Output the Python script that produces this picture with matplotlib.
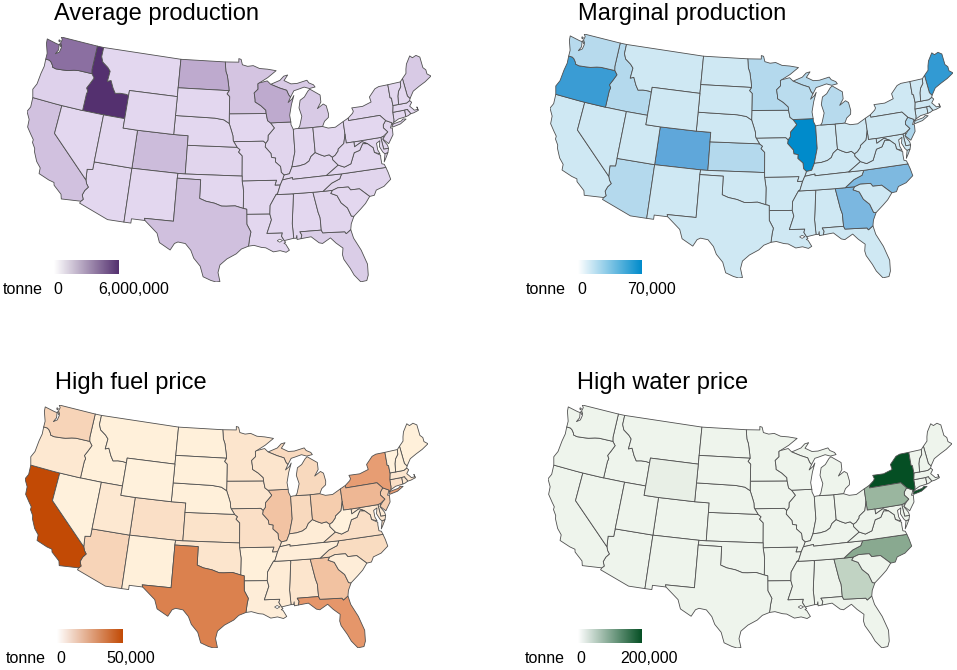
import numpy as np
import matplotlib

matplotlib.use("Agg")
import matplotlib.pyplot as plt
from matplotlib.colors import LinearSegmentedColormap

plt.rcParams["font.family"] = ["Liberation Sans", "DejaVu Sans"]

W, H = 957, 670

STATES = ["AL", "AZ", "AR", "CA", "CO", "CT", "DE", "FL", "GA", "ID", "IL", "IN",
          "IA", "KS", "KY", "LA", "ME", "MD", "MA", "MI", "MN", "MS", "MO", "MT",
          "NE", "NV", "NH", "NJ", "NM", "NY", "NC", "ND", "OH", "OK", "OR", "PA",
          "RI", "SC", "SD", "TN", "TX", "UT", "VT", "VA", "WA", "WV", "WI", "WY"]

average_production = [60000, 60000, 60000, 800000, 1000000, 60000, 60000, 400000, 120000, 6000000, 120000, 60000,
                      60000, 120000, 60000, 60000, 500000, 60000, 60000, 500000, 700000, 60000, 60000, 60000,
                      60000, 60000, 60000, 120000, 60000, 120000, 120000, 1600000, 60000, 60000, 240000, 60000,
                      60000, 60000, 60000, 60000, 840000, 60000, 60000, 60000, 3700000, 60000, 1600000, 60000]
marginal_production = [500, 9000, 500, 500, 36000, 500, 500, 500, 27000, 9000, 70000, 500,
                       500, 9000, 500, 500, 52000, 500, 500, 8000, 9000, 500, 500, 500,
                       500, 500, 500, 11000, 500, 500, 26000, 500, 500, 500, 49000, 500,
                       500, 500, 500, 500, 500, 500, 500, 500, 8000, 500, 7000, 500]
high_fuel_price = [3500, 8000, 500, 50000, 5000, 5000, 1500, 25000, 13000, 500, 12500, 6500,
                   3000, 4000, 1500, 1000, 500, 2500, 3000, 6500, 3500, 1500, 5000, 500,
                   500, 100, 500, 10000, 500, 23000, 6000, 500, 10000, 3500, 2500, 16000,
                   2500, 1000, 500, 1000, 32000, 2500, 100, 5000, 8000, 100, 3500, 100]
high_water_price = [500, 500, 500, 500, 500, 500, 500, 500, 40000, 500, 500, 500,
                    500, 500, 500, 500, 500, 500, 500, 500, 500, 500, 500, 500,
                    500, 500, 500, 500, 500, 200000, 90000, 500, 500, 500, 500, 75000,
                    500, 500, 500, 500, 500, 500, 500, 500, 500, 500, 500, 6000]

TITLES = ["Average production", "Marginal production", "High fuel price", "High water price"]
SERIES = [average_production, marginal_production, high_fuel_price, high_water_price]
VMAX = [6000000, 70000, 50000, 200000]
MAX_LABELS = ["6,000,000", "70,000", "50,000", "200,000"]
BASE_COLORS = ["#E4D8F0", "#D0E9F3", "#FFF1DC", "#EEF4EC"]
MID_COLORS = ["#9C82B0", "#62A8DA", "#E5966A", "#7EA186"]
TOP_COLORS = ["#54306F", "#008BCB", "#C24A05", "#054F24"]

# left, right, top, bottom of each map in pixels
MAP_BOX = [(27, 431, 37, 282), (550, 953, 34, 278), (25, 428, 405, 648), (548, 952, 405, 648)]
# left, right, top, bottom of each legend bar
BAR_BOX = [(54, 119, 260, 274), (578, 642, 260, 274), (57, 122, 629, 643), (578, 642, 629, 643)]
TITLE_POS = [(54, 20), (578, 20), (55, 389), (577, 389)]
TONNE_POS = [(3, 294), (526, 294), (6, 663), (525, 663)]
ZERO_POS = [(53, 294), (577, 294), (56, 663), (576, 663)]
MAX_POS = [(98, 294), (627, 294), (106, 663), (620, 663)]

# state outlines, lon/lat
SHAPES = {
    "WA": [[(-117.04, 49), (-122.76, 49), (-122.5, 48.75), (-122.6, 48.4), (-122.3, 47.9), (-122.4, 47.4),
            (-122.9, 47.1), (-122.6, 47.6), (-122.75, 48.15), (-123.15, 48.17), (-124.73, 48.38), (-124.65, 47.9),
            (-124.1, 46.9), (-124.05, 46.27), (-123.5, 46.27), (-123.2, 46.15), (-122.85, 45.85), (-122.75, 45.65),
            (-122.2, 45.57), (-121.2, 45.65), (-120.5, 45.72), (-119.6, 45.92), (-118.98, 46.0), (-116.92, 46.0),
            (-117.04, 46.42)],
           [(-122.75, 48.6), (-122.95, 48.65), (-122.95, 48.5), (-122.75, 48.45)],
           [(-122.6, 48.3), (-122.75, 48.2), (-122.4, 47.98), (-122.35, 48.1)]],
    "OR": [[(-124.05, 46.27), (-123.95, 45.5), (-124.1, 44.7), (-124.2, 43.5), (-124.55, 42.84), (-124.2, 42.0),
            (-121, 42), (-120, 42), (-117.03, 42), (-117.03, 43.8), (-116.93, 44.1), (-117.2, 44.4), (-116.85, 44.95),
            (-116.46, 45.6), (-116.92, 46.0), (-118.98, 46.0), (-119.6, 45.92), (-120.5, 45.72), (-121.2, 45.65),
            (-122.2, 45.57), (-122.75, 45.65), (-122.85, 45.85), (-123.2, 46.15), (-123.5, 46.27)]],
    "CA": [[(-124.2, 42), (-124.1, 41.0), (-124.4, 40.44), (-123.8, 39.7), (-123.7, 38.9), (-122.95, 38.2),
            (-122.5, 37.8), (-122.5, 37.5), (-122.0, 36.95), (-121.9, 36.6), (-121.3, 35.7), (-120.65, 35.15),
            (-120.6, 34.55), (-119.2, 34.15), (-118.5, 34.03), (-118.4, 33.75), (-117.3, 33.0), (-117.13, 32.53),
            (-114.72, 32.72), (-114.47, 32.95), (-114.7, 33.4), (-114.5, 33.9), (-114.14, 34.3), (-114.43, 34.6),
            (-114.63, 35.0), (-120, 39), (-120, 42)]],
    "NV": [[(-120, 42), (-117.03, 42), (-114.04, 42), (-114.04, 37), (-114.04, 36.2), (-114.75, 36.1),
            (-114.63, 35.0), (-120, 39)]],
    "AZ": [[(-114.04, 37), (-109.05, 37), (-109.05, 31.33), (-111.07, 31.33), (-114.81, 32.5), (-114.72, 32.72),
            (-114.47, 32.95), (-114.7, 33.4), (-114.5, 33.9), (-114.14, 34.3), (-114.43, 34.6), (-114.63, 35.0),
            (-114.75, 36.1), (-114.04, 36.2)]],
    "UT": [[(-114.04, 42), (-111.05, 42), (-111.05, 41), (-109.05, 41), (-109.05, 37), (-114.04, 37)]],
    "ID": [[(-117.04, 49), (-116.05, 49), (-116.05, 48), (-115.7, 47.45), (-114.8, 47.0), (-114.35, 46.65),
            (-114.45, 45.55), (-113.95, 45.7), (-113.45, 44.95), (-113.0, 44.45), (-112.3, 44.55), (-111.5, 44.55),
            (-111.05, 44.48), (-111.05, 42), (-114.04, 42), (-117.03, 42), (-117.03, 43.8), (-116.93, 44.1),
            (-117.2, 44.4), (-116.85, 44.95), (-116.46, 45.6), (-116.92, 46.0), (-117.04, 46.42)]],
    "MT": [[(-116.05, 49), (-104.05, 49), (-104.05, 45.94), (-104.05, 45), (-111.05, 45), (-111.05, 44.48),
            (-111.5, 44.55), (-112.3, 44.55), (-113.0, 44.45), (-113.45, 44.95), (-113.95, 45.7), (-114.45, 45.55),
            (-114.35, 46.65), (-114.8, 47.0), (-115.7, 47.45), (-116.05, 48)]],
    "WY": [[(-111.05, 45), (-104.05, 45), (-104.05, 43), (-104.05, 41), (-109.05, 41), (-111.05, 41)]],
    "CO": [[(-109.05, 41), (-104.05, 41), (-102.05, 41), (-102.05, 40), (-102.05, 37), (-103, 37), (-109.05, 37)]],
    "NM": [[(-109.05, 37), (-103, 37), (-103.04, 36.5), (-103.05, 32), (-106.62, 32), (-106.53, 31.78),
            (-108.2, 31.78), (-108.2, 31.33), (-109.05, 31.33)]],
    "ND": [[(-104.05, 49), (-97.23, 49), (-97.1, 48), (-96.85, 47.5), (-96.6, 46.3), (-96.56, 45.94), (-104.05, 45.94)]],
    "SD": [[(-104.05, 45.94), (-96.56, 45.94), (-96.85, 45.6), (-96.45, 45.3), (-96.45, 43.5), (-96.45, 42.49),
            (-97.2, 42.85), (-98.5, 43.0), (-104.05, 43), (-104.05, 45)]],
    "NE": [[(-104.05, 43), (-98.5, 43), (-97.2, 42.85), (-96.45, 42.49), (-96.1, 41.7), (-95.9, 41.2), (-95.85, 40.7),
            (-95.77, 40.58), (-95.31, 40), (-102.05, 40), (-102.05, 41), (-104.05, 41)]],
    "KS": [[(-102.05, 40), (-95.31, 40), (-94.9, 39.75), (-95.1, 39.5), (-94.61, 39.11), (-94.62, 37), (-102.05, 37)]],
    "OK": [[(-103, 37), (-102.05, 37), (-94.62, 37), (-94.62, 36.5), (-94.43, 35.4), (-94.48, 33.64), (-95.5, 33.9),
            (-96.6, 33.85), (-97.2, 33.85), (-98.1, 34.13), (-99.2, 34.3), (-100, 34.56), (-100, 36.5), (-103.04, 36.5)]],
    "TX": [[(-103.04, 36.5), (-100, 36.5), (-100, 34.56), (-99.2, 34.3), (-98.1, 34.13), (-97.2, 33.85), (-96.6, 33.85),
            (-95.5, 33.9), (-94.48, 33.64), (-94.04, 33.55), (-94.04, 33.02), (-94.04, 31.99), (-93.55, 31.18),
            (-93.7, 30.6), (-93.85, 29.7), (-94.7, 29.4), (-95.3, 28.9), (-96.4, 28.35), (-97.2, 27.7), (-97.4, 26.9),
            (-97.15, 25.96), (-97.6, 25.9), (-98.2, 26.05), (-99.1, 26.4), (-99.5, 27.5), (-100.3, 28.3), (-100.7, 29.1),
            (-101.4, 29.77), (-102.3, 29.88), (-102.7, 29.7), (-103.15, 28.98), (-104.5, 29.65), (-104.9, 30.6),
            (-106.53, 31.78), (-106.62, 32), (-103.05, 32)]],
    "MN": [[(-97.23, 49), (-95.15, 49), (-95.15, 49.38), (-94.8, 49.3), (-94.6, 48.72), (-93.8, 48.55), (-92.95, 48.62),
            (-92.0, 48.3), (-90.8, 48.2), (-89.5, 48.0), (-90.8, 47.3), (-92.1, 46.75), (-92.29, 46.66), (-92.29, 46.1),
            (-92.87, 45.7), (-92.75, 45.0), (-92.75, 44.75), (-91.95, 44.35), (-91.25, 43.85), (-91.22, 43.5),
            (-96.45, 43.5), (-96.45, 45.3), (-96.85, 45.6), (-96.56, 45.94), (-96.6, 46.3), (-96.85, 47.5), (-97.1, 48)]],
    "IA": [[(-96.45, 43.5), (-91.22, 43.5), (-91.05, 42.75), (-90.65, 42.5), (-90.15, 41.95), (-91.05, 41.2),
            (-91.1, 40.7), (-91.42, 40.38), (-91.73, 40.61), (-95.77, 40.58), (-95.85, 40.7), (-95.9, 41.2),
            (-96.1, 41.7), (-96.45, 42.49)]],
    "MO": [[(-95.77, 40.58), (-91.73, 40.61), (-91.42, 40.38), (-91.5, 40), (-90.75, 39.3), (-90.7, 38.9),
            (-90.15, 38.8), (-90.2, 38.4), (-89.55, 37.9), (-89.5, 37.3), (-89.15, 37.0), (-89.4, 36.5), (-89.7, 36.0),
            (-90.37, 36.0), (-90.15, 36.5), (-94.62, 36.5), (-94.62, 37), (-94.61, 39.11), (-95.1, 39.5), (-94.9, 39.75),
            (-95.31, 40)]],
    "AR": [[(-94.62, 36.5), (-90.15, 36.5), (-90.37, 36.0), (-89.7, 36.0), (-90.1, 35.1), (-90.3, 35.0), (-90.6, 34.6),
            (-91.1, 33.9), (-91.17, 33.0), (-94.04, 33.02), (-94.04, 33.55), (-94.48, 33.64), (-94.43, 35.4)]],
    "LA": [[(-94.04, 33.02), (-91.17, 33.0), (-91.0, 32.4), (-91.6, 31.0), (-89.73, 31.0), (-89.85, 30.65),
            (-89.55, 30.18), (-89.4, 30.0), (-89.6, 29.9), (-89.4, 29.8), (-89.0, 29.15), (-89.4, 28.95), (-90.1, 29.15),
            (-90.9, 29.05), (-91.8, 29.5), (-92.3, 29.55), (-93.2, 29.78), (-93.85, 29.7), (-93.7, 30.6), (-93.55, 31.18),
            (-94.04, 31.99)]],
    "MS": [[(-90.3, 35.0), (-88.2, 35.0), (-88.1, 34.9), (-88.47, 31.9), (-88.4, 30.37), (-89.55, 30.18),
            (-89.85, 30.65), (-89.73, 31.0), (-91.6, 31.0), (-91.0, 32.4), (-91.17, 33.0), (-91.1, 33.9), (-90.6, 34.6)]],
    "AL": [[(-88.2, 35.0), (-85.6, 35.0), (-85.18, 32.87), (-85.0, 32.3), (-85.0, 31.0), (-87.6, 31.0), (-87.4, 30.65),
            (-87.52, 30.28), (-88.0, 30.22), (-88.0, 30.65), (-88.1, 30.35), (-88.4, 30.37), (-88.47, 31.9), (-88.1, 34.9)]],
    "TN": [[(-90.3, 35.0), (-88.2, 35.0), (-85.6, 35.0), (-84.32, 35.0), (-83.1, 35.75), (-82.0, 36.1), (-81.68, 36.59),
            (-83.67, 36.6), (-88.07, 36.5), (-88.07, 36.68), (-89.4, 36.5), (-89.7, 36.0), (-90.1, 35.1)]],
    "NC": [[(-84.32, 35.0), (-83.1, 35.0), (-82.4, 35.2), (-81.05, 35.15), (-80.8, 34.82), (-79.67, 34.8),
            (-78.55, 33.86), (-77.95, 33.9), (-77.6, 34.4), (-76.55, 34.65), (-75.55, 35.25), (-75.7, 36.0),
            (-75.87, 36.55), (-81.68, 36.59), (-82.0, 36.1), (-83.1, 35.75)]],
    "SC": [[(-83.1, 35.0), (-82.4, 35.2), (-81.05, 35.15), (-80.8, 34.82), (-79.67, 34.8), (-78.55, 33.86), (-79.2, 33.2),
            (-79.9, 32.7), (-80.85, 32.05), (-81.15, 32.1), (-81.5, 33.0), (-82.2, 33.6), (-82.6, 34.4), (-83.35, 34.7)]],
    "GA": [[(-85.6, 35), (-84.32, 35), (-83.1, 35), (-83.35, 34.7), (-82.6, 34.4), (-82.2, 33.6), (-81.5, 33.0),
            (-81.15, 32.1), (-80.85, 32.05), (-81.3, 31.3), (-81.45, 30.72), (-82.05, 30.36), (-82.2, 30.57),
            (-84.86, 30.7), (-85.0, 31.0), (-85.0, 32.3), (-85.18, 32.87)]],
    "FL": [[(-87.6, 31), (-85.0, 31), (-84.86, 30.7), (-82.2, 30.57), (-82.05, 30.36), (-81.45, 30.72), (-81.25, 29.8),
            (-80.55, 28.45), (-80.05, 26.9), (-80.15, 25.75), (-80.4, 25.2), (-81.1, 25.15), (-81.75, 25.95), (-82.1, 26.7),
            (-82.7, 27.7), (-82.8, 28.2), (-82.65, 28.9), (-83.4, 29.5), (-84.0, 30.1), (-85.0, 29.6), (-85.4, 29.7),
            (-86.3, 30.4), (-87.52, 30.28), (-87.4, 30.65)]],
    "KY": [[(-89.4, 36.5), (-88.07, 36.68), (-88.07, 36.5), (-83.67, 36.6), (-81.97, 37.54), (-82.6, 38.17),
            (-82.6, 38.42), (-83.0, 38.72), (-83.65, 38.63), (-84.25, 38.85), (-84.82, 39.1), (-85.43, 38.73),
            (-85.75, 38.27), (-86.3, 38.0), (-87.1, 37.85), (-88.05, 37.8), (-88.45, 37.1), (-89.15, 37.0)]],
    "IL": [[(-87.8, 42.49), (-90.65, 42.5), (-90.15, 41.95), (-91.05, 41.2), (-91.1, 40.7), (-91.42, 40.38), (-91.5, 40),
            (-90.75, 39.3), (-90.7, 38.9), (-90.15, 38.8), (-90.2, 38.4), (-89.55, 37.9), (-89.5, 37.3), (-89.15, 37.0),
            (-88.45, 37.1), (-88.05, 37.8), (-87.53, 39.35), (-87.53, 41.7), (-87.8, 42.2)]],
    "IN": [[(-87.53, 41.7), (-87.2, 41.75), (-86.82, 41.76), (-84.8, 41.73), (-84.82, 39.1), (-85.43, 38.73),
            (-85.75, 38.27), (-86.3, 38.0), (-87.1, 37.85), (-88.05, 37.8), (-87.53, 39.35)]],
    "OH": [[(-84.8, 41.73), (-83.45, 41.73), (-82.7, 41.5), (-81.7, 41.5), (-80.52, 41.98), (-80.52, 40.64),
            (-80.85, 39.7), (-81.7, 39.2), (-81.75, 39.0), (-82.2, 38.6), (-82.6, 38.42), (-83.0, 38.72), (-83.65, 38.63),
            (-84.25, 38.85), (-84.82, 39.1)]],
    "WV": [[(-80.52, 40.64), (-80.52, 39.72), (-79.48, 39.72), (-79.48, 39.2), (-78.4, 39.62), (-77.72, 39.32),
            (-78.35, 39.4), (-78.87, 38.76), (-79.65, 38.6), (-80.3, 37.5), (-81.2, 37.25), (-81.97, 37.54), (-82.6, 38.17),
            (-82.6, 38.42), (-82.2, 38.6), (-81.75, 39.0), (-81.7, 39.2), (-80.85, 39.7)]],
    "VA": [[(-83.67, 36.6), (-81.68, 36.59), (-75.87, 36.55), (-76.0, 36.9), (-76.3, 37.0), (-76.3, 37.6), (-76.25, 37.9),
            (-77.0, 38.3), (-77.05, 38.8), (-77.72, 39.32), (-78.35, 39.4), (-78.87, 38.76), (-79.65, 38.6), (-80.3, 37.5),
            (-81.2, 37.25), (-81.97, 37.54)],
           [(-75.95, 37.15), (-75.65, 37.95), (-75.24, 38.03), (-75.65, 37.5)]],
    "MD": [[(-79.48, 39.72), (-75.79, 39.72), (-75.7, 38.46), (-75.05, 38.45), (-75.24, 38.03), (-75.65, 37.95),
            (-75.9, 38.2), (-76.2, 38.8), (-76.0, 39.4), (-76.5, 39.2), (-76.5, 38.5), (-76.3, 38.05), (-77.0, 38.3),
            (-77.05, 38.8), (-77.72, 39.32), (-78.4, 39.62), (-79.48, 39.2)]],
    "DE": [[(-75.79, 39.72), (-75.4, 39.8), (-75.55, 39.45), (-75.1, 38.8), (-75.05, 38.45), (-75.7, 38.46)]],
    "PA": [[(-80.52, 41.98), (-79.76, 42.27), (-79.76, 42.0), (-75.35, 42.0), (-74.7, 41.36), (-75.13, 40.97),
            (-75.2, 40.65), (-74.72, 40.15), (-75.4, 39.8), (-75.79, 39.72), (-79.48, 39.72), (-80.52, 39.72),
            (-80.52, 40.64)]],
    "NJ": [[(-74.7, 41.36), (-73.9, 41.0), (-74.25, 40.5), (-74.0, 40.45), (-74.1, 39.75), (-74.9, 38.93), (-75.55, 39.5),
            (-75.1, 39.9), (-74.72, 40.15), (-75.2, 40.65), (-75.13, 40.97)]],
    "NY": [[(-79.76, 42.27), (-79.05, 42.7), (-78.9, 42.9), (-79.05, 43.27), (-77.5, 43.25), (-76.2, 43.55), (-76.3, 44.1),
            (-75.3, 44.85), (-74.7, 45.0), (-73.35, 45.0), (-73.43, 43.6), (-73.25, 43.55), (-73.27, 42.75), (-73.5, 42.05),
            (-73.55, 41.3), (-73.65, 41.0), (-73.9, 40.8), (-73.9, 41.0), (-74.7, 41.36), (-75.35, 42), (-79.76, 42)],
           [(-74.03, 40.6), (-73.75, 40.85), (-72.6, 40.98), (-72.3, 41.15), (-71.9, 41.07), (-72.8, 40.7), (-73.9, 40.55)]],
    "VT": [[(-73.35, 45), (-71.5, 45.01), (-71.6, 44.5), (-72.05, 44.1), (-72.3, 43.6), (-72.46, 42.73), (-73.27, 42.75),
            (-73.25, 43.55), (-73.43, 43.6)]],
    "NH": [[(-71.5, 45.01), (-71.08, 45.3), (-70.98, 43.4), (-70.7, 43.07), (-70.82, 42.87), (-71.3, 42.7), (-72.46, 42.73),
            (-72.3, 43.6), (-72.05, 44.1), (-71.6, 44.5)]],
    "ME": [[(-71.08, 45.3), (-70.4, 45.75), (-70.25, 46.2), (-70.0, 46.7), (-69.22, 47.46), (-68.9, 47.2), (-68.3, 47.35),
            (-67.8, 47.07), (-67.78, 45.9), (-67.45, 45.6), (-67.45, 45.15), (-66.97, 44.82), (-68.0, 44.4), (-69.0, 44.1),
            (-70.0, 43.75), (-70.7, 43.07), (-70.98, 43.4)]],
    "MA": [[(-73.5, 42.05), (-73.27, 42.75), (-72.46, 42.73), (-71.3, 42.7), (-70.82, 42.87), (-70.6, 42.65), (-71.0, 42.3),
            (-70.65, 41.95), (-70.5, 41.78), (-70.0, 41.78), (-70.05, 42.05), (-69.95, 41.67), (-70.65, 41.53),
            (-71.12, 41.5), (-71.2, 41.7), (-71.38, 41.9), (-71.38, 42.02), (-71.8, 42.02)]],
    "RI": [[(-71.8, 42.02), (-71.38, 42.02), (-71.38, 41.9), (-71.2, 41.7), (-71.12, 41.5), (-71.5, 41.37), (-71.85, 41.32)]],
    "CT": [[(-73.5, 42.05), (-71.8, 42.02), (-71.85, 41.32), (-72.9, 41.25), (-73.65, 41.0), (-73.55, 41.3)]],
    "MI": [[(-86.82, 41.76), (-84.8, 41.73), (-83.45, 41.73), (-83.1, 42.25), (-82.5, 42.6), (-82.42, 43.0), (-82.6, 43.85),
            (-83.0, 44.07), (-83.9, 43.65), (-83.3, 44.3), (-83.3, 45.05), (-84.7, 45.78), (-85.0, 45.6), (-85.6, 45.0),
            (-86.25, 44.7), (-86.5, 43.9), (-86.2, 43.0), (-86.6, 42.0)],
           [(-90.4, 46.57), (-89.0, 46.95), (-88.4, 47.37), (-87.8, 47.47), (-88.4, 46.9), (-87.4, 46.5), (-86.5, 46.5),
            (-85.0, 46.75), (-84.75, 46.45), (-84.1, 46.2), (-83.9, 45.95), (-84.75, 45.85), (-85.5, 46.05), (-86.5, 45.85),
            (-87.05, 45.75), (-87.6, 45.1), (-87.85, 45.35), (-88.1, 45.85), (-89.1, 46.13)]],
    "WI": [[(-92.29, 46.66), (-92.1, 46.75), (-90.9, 46.95), (-90.4, 46.57), (-89.1, 46.13), (-88.1, 45.85), (-87.85, 45.35),
            (-87.6, 45.1), (-88.0, 44.55), (-87.4, 44.9), (-87.1, 45.25), (-87.55, 44.3), (-87.9, 43.2), (-87.8, 42.49),
            (-90.65, 42.5), (-91.05, 42.75), (-91.22, 43.5), (-91.25, 43.85), (-91.95, 44.35), (-92.75, 44.75), (-92.75, 45),
            (-92.87, 45.7), (-92.29, 46.1)]],
}
LAKE_PONTCHARTRAIN = [(-90.4, 30.2), (-90.1, 30.35), (-89.75, 30.2), (-90.1, 30.03)]


def albers(points, lon0=-94.5, lat0=37.5, lat1=27.0, lat2=43.0):
    pts = np.radians(np.array(points))
    lon0, lat0, lat1, lat2 = np.radians([lon0, lat0, lat1, lat2])
    n = (np.sin(lat1) + np.sin(lat2)) / 2
    c = np.cos(lat1) ** 2 + 2 * n * np.sin(lat1)
    rho = np.sqrt(c - 2 * n * np.sin(pts[:, 1])) / n
    rho0 = np.sqrt(c - 2 * n * np.sin(lat0)) / n
    theta = n * (pts[:, 0] - lon0)
    return rho * np.sin(theta), rho0 - rho * np.cos(theta)


all_pts = [p for rings in SHAPES.values() for ring in rings for p in ring]
all_x, all_y = albers(all_pts)

fig = plt.figure(figsize=(W / 100, H / 100), dpi=100)


def put_axes(box):
    left, right, top, bottom = box
    return fig.add_axes([left / W, 1 - bottom / H, (right - left) / W, (bottom - top) / H])


for i, title in enumerate(TITLES):
    ax = put_axes(MAP_BOX[i])
    cmap = LinearSegmentedColormap.from_list("state", [BASE_COLORS[i], MID_COLORS[i], TOP_COLORS[i]])
    for state, value in zip(STATES, SERIES[i]):
        for ring in SHAPES[state]:
            x, y = albers(ring)
            ax.fill(x, y, facecolor=cmap(value / VMAX[i]), edgecolor="#505050", linewidth=0.6, joinstyle="round")
    x, y = albers(LAKE_PONTCHARTRAIN)
    ax.fill(x, y, facecolor="white", edgecolor="#505050", linewidth=0.5)
    ax.set_xlim(all_x.min(), all_x.max())
    ax.set_ylim(all_y.min(), all_y.max())
    ax.axis("off")
    ax.patch.set_alpha(0)

    bar = put_axes(BAR_BOX[i])
    ramp = LinearSegmentedColormap.from_list("ramp", ["white", TOP_COLORS[i]])
    bar.imshow(np.linspace(0, 1, 256)[None, :], cmap=ramp, aspect="auto")
    bar.axis("off")

    fig.text(TITLE_POS[i][0] / W, 1 - TITLE_POS[i][1] / H, title, fontsize=17, color="black", va="baseline")
    fig.text(TONNE_POS[i][0] / W, 1 - TONNE_POS[i][1] / H, "tonne", fontsize=11.5, va="baseline")
    fig.text(ZERO_POS[i][0] / W, 1 - ZERO_POS[i][1] / H, "0", fontsize=11.5, va="baseline")
    fig.text(MAX_POS[i][0] / W, 1 - MAX_POS[i][1] / H, MAX_LABELS[i], fontsize=11.5, va="baseline")

fig.savefig("out.png", dpi=100)
